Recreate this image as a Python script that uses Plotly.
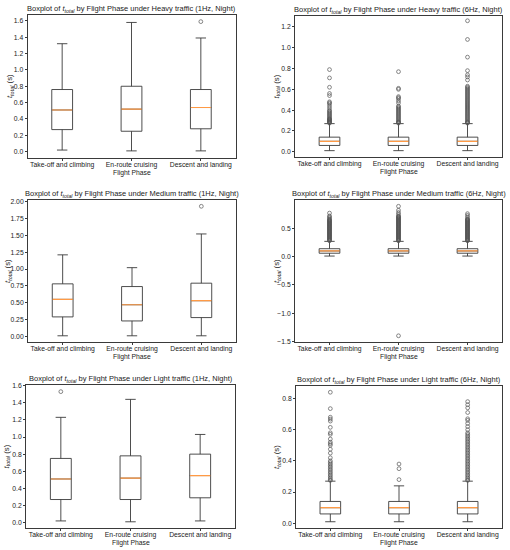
import plotly.graph_objects as go

# ---------------- data ----------------
phases = ["Take-off and climbing", "En-route cruising", "Descent and landing"]
positions = [1, 2, 3]

panel_titles = [
    "Heavy traffic (1Hz, Night)", "Heavy traffic (6Hz, Night)",
    "Medium traffic (1Hz, Night)", "Medium traffic (6Hz, Night)",
    "Light traffic (1Hz, Night)", "Light traffic (6Hz, Night)",
]

# Heavy 1Hz
heavy_1hz_low = [0.02, 0.01, 0.01]
heavy_1hz_q1 = [0.27, 0.25, 0.28]
heavy_1hz_med = [0.51, 0.52, 0.54]
heavy_1hz_q3 = [0.76, 0.80, 0.76]
heavy_1hz_high = [1.32, 1.58, 1.39]
heavy_1hz_out = [[], [], [1.59]]

# Heavy 6Hz
heavy_6hz_low = [0.01, 0.01, 0.01]
heavy_6hz_q1 = [0.06, 0.06, 0.06]
heavy_6hz_med = [0.10, 0.10, 0.10]
heavy_6hz_q3 = [0.14, 0.14, 0.14]
heavy_6hz_high = [0.27, 0.27, 0.27]
heavy_6hz_out = [
    [0.275, 0.28, 0.285, 0.29, 0.295, 0.30, 0.305, 0.31, 0.315, 0.32, 0.33, 0.34,
     0.35, 0.36, 0.37, 0.38, 0.39, 0.40, 0.42, 0.44, 0.46, 0.47, 0.48, 0.54,
     0.56, 0.62, 0.71, 0.79],
    [0.275, 0.28, 0.285, 0.29, 0.30, 0.31, 0.32, 0.33, 0.34, 0.35, 0.36, 0.37,
     0.38, 0.39, 0.40, 0.41, 0.42, 0.43, 0.44, 0.47, 0.49, 0.51, 0.52, 0.53,
     0.60, 0.61, 0.77],
    [0.275, 0.28, 0.285, 0.29, 0.30, 0.31, 0.32, 0.33, 0.34, 0.35, 0.36, 0.37,
     0.38, 0.39, 0.40, 0.41, 0.42, 0.43, 0.44, 0.45, 0.46, 0.47, 0.48, 0.49,
     0.50, 0.51, 0.52, 0.53, 0.54, 0.55, 0.56, 0.57, 0.58, 0.59, 0.60, 0.61,
     0.62, 0.63, 0.69, 0.72, 0.74, 0.78, 0.91, 1.08, 1.26],
]

# Medium 1Hz
medium_1hz_low = [0.01, 0.01, 0.01]
medium_1hz_q1 = [0.29, 0.23, 0.28]
medium_1hz_med = [0.55, 0.47, 0.53]
medium_1hz_q3 = [0.78, 0.74, 0.79]
medium_1hz_high = [1.21, 1.02, 1.52]
medium_1hz_out = [[], [], [1.93]]

# Medium 6Hz
medium_6hz_low = [0.01, 0.01, 0.01]
medium_6hz_q1 = [0.06, 0.06, 0.06]
medium_6hz_med = [0.10, 0.10, 0.10]
medium_6hz_q3 = [0.14, 0.14, 0.14]
medium_6hz_high = [0.27, 0.27, 0.27]
medium_6hz_out = [
    [0.28, 0.29, 0.30, 0.31, 0.32, 0.33, 0.34, 0.35, 0.36, 0.37, 0.38, 0.39,
     0.40, 0.41, 0.42, 0.43, 0.44, 0.45, 0.46, 0.47, 0.48, 0.49, 0.50, 0.51,
     0.52, 0.53, 0.54, 0.55, 0.56, 0.57, 0.58, 0.59, 0.60, 0.61, 0.62, 0.63,
     0.64, 0.65, 0.66, 0.68, 0.70, 0.72, 0.77],
    [-1.40, 0.28, 0.29, 0.30, 0.31, 0.32, 0.33, 0.34, 0.35, 0.36, 0.37, 0.38,
     0.39, 0.40, 0.41, 0.42, 0.43, 0.44, 0.45, 0.46, 0.47, 0.48, 0.49, 0.50,
     0.51, 0.52, 0.53, 0.54, 0.55, 0.56, 0.57, 0.58, 0.59, 0.60, 0.61, 0.62,
     0.63, 0.64, 0.65, 0.66, 0.67, 0.68, 0.69, 0.70, 0.71, 0.72, 0.75, 0.78,
     0.82, 0.89],
    [0.28, 0.29, 0.30, 0.31, 0.32, 0.33, 0.34, 0.35, 0.36, 0.37, 0.38, 0.39,
     0.40, 0.41, 0.42, 0.43, 0.44, 0.45, 0.46, 0.47, 0.48, 0.49, 0.50, 0.51,
     0.52, 0.53, 0.54, 0.55, 0.56, 0.57, 0.58, 0.59, 0.60, 0.61, 0.62, 0.63,
     0.64, 0.65, 0.66, 0.67, 0.70, 0.73, 0.76],
]

# Light 1Hz
light_1hz_low = [0.02, 0.01, 0.02]
light_1hz_q1 = [0.27, 0.27, 0.29]
light_1hz_med = [0.51, 0.52, 0.55]
light_1hz_q3 = [0.75, 0.78, 0.80]
light_1hz_high = [1.23, 1.44, 1.03]
light_1hz_out = [[1.53], [], []]

# Light 6Hz
light_6hz_low = [0.01, 0.01, 0.01]
light_6hz_q1 = [0.06, 0.06, 0.06]
light_6hz_med = [0.10, 0.10, 0.10]
light_6hz_q3 = [0.14, 0.14, 0.14]
light_6hz_high = [0.27, 0.24, 0.27]
light_6hz_out = [
    [0.275, 0.28, 0.29, 0.30, 0.31, 0.32, 0.33, 0.34, 0.35, 0.36, 0.37, 0.38,
     0.39, 0.40, 0.42, 0.45, 0.475, 0.50, 0.51, 0.52, 0.54, 0.57, 0.58, 0.615,
     0.655, 0.668, 0.68, 0.735, 0.84],
    [0.28, 0.35, 0.38],
    [0.275, 0.28, 0.29, 0.30, 0.31, 0.32, 0.33, 0.34, 0.35, 0.36, 0.37, 0.38,
     0.39, 0.40, 0.41, 0.42, 0.43, 0.44, 0.45, 0.46, 0.47, 0.48, 0.49, 0.50,
     0.51, 0.52, 0.53, 0.54, 0.55, 0.56, 0.57, 0.58, 0.60, 0.62, 0.64, 0.66,
     0.67, 0.71, 0.74, 0.76, 0.78],
]

panels = [
    (heavy_1hz_low, heavy_1hz_q1, heavy_1hz_med, heavy_1hz_q3, heavy_1hz_high, heavy_1hz_out),
    (heavy_6hz_low, heavy_6hz_q1, heavy_6hz_med, heavy_6hz_q3, heavy_6hz_high, heavy_6hz_out),
    (medium_1hz_low, medium_1hz_q1, medium_1hz_med, medium_1hz_q3, medium_1hz_high, medium_1hz_out),
    (medium_6hz_low, medium_6hz_q1, medium_6hz_med, medium_6hz_q3, medium_6hz_high, medium_6hz_out),
    (light_1hz_low, light_1hz_q1, light_1hz_med, light_1hz_q3, light_1hz_high, light_1hz_out),
    (light_6hz_low, light_6hz_q1, light_6hz_med, light_6hz_q3, light_6hz_high, light_6hz_out),
]

# ---------------- layout settings ----------------
W, H = 510, 550
# plot-area boxes in pixels: (left, right, top, bottom)
boxes_px = [
    (27.5, 235.5, 12.3, 156.7),
    (295, 502, 12.7, 156),
    (28, 236, 199, 343),
    (295, 502, 199, 343),
    (26, 235, 386, 531),
    (296, 502, 387, 531),
]
ylabel_shift = [-18, -18, -20, -18, -19, -19]
yranges = [
    [-0.077, 1.669],
    [-0.054, 1.31],
    [-0.086, 2.026],
    [-1.5145, 1.0045],
    [-0.065, 1.61],
    [-0.0315, 0.8815],
]
ytick_sets = [
    ([0.0, 0.2, 0.4, 0.6, 0.8, 1.0, 1.2, 1.4, 1.6], ".1f"),
    ([0.0, 0.2, 0.4, 0.6, 0.8, 1.0, 1.2], ".1f"),
    ([0.0, 0.25, 0.5, 0.75, 1.0, 1.25, 1.5, 1.75, 2.0], ".2f"),
    ([-1.5, -1.0, -0.5, 0.0, 0.5], ".1f"),
    ([0.0, 0.2, 0.4, 0.6, 0.8, 1.0, 1.2, 1.4, 1.6], ".1f"),
    ([0.0, 0.2, 0.4, 0.6, 0.8], ".1f"),
]

FONT = "Liberation Sans, Arial, sans-serif"
EDGE = "#3a3a3a"
BOX_W = 0.3
TICK_SIZE = 6.8

fig = go.Figure()
annotations = []
layout_axes = {}

for i, (low, q1, med, q3, high, outs) in enumerate(panels):
    n = i + 1
    xa = "x" if n == 1 else f"x{n}"
    ya = "y" if n == 1 else f"y{n}"
    xkey = "xaxis" if n == 1 else f"xaxis{n}"
    ykey = "yaxis" if n == 1 else f"yaxis{n}"

    fig.add_trace(go.Box(
        x=positions, q1=q1, median=med, q3=q3, lowerfence=low, upperfence=high,
        width=BOX_W, whiskerwidth=0.5, boxpoints=False,
        line=dict(color=EDGE, width=0.9), fillcolor="rgba(255,255,255,0)",
        xaxis=xa, yaxis=ya, showlegend=False, hoverinfo="skip",
    ))
    # median lines (orange, drawn over the box's own median)
    mx, my = [], []
    for p, m in zip(positions, med):
        mx += [p - BOX_W / 2 + 0.004, p + BOX_W / 2 - 0.004, None]
        my += [m, m, None]
    fig.add_trace(go.Scatter(
        x=mx, y=my, mode="lines", line=dict(color="#ff9a45", width=1.2),
        xaxis=xa, yaxis=ya, showlegend=False, hoverinfo="skip",
    ))
    # outliers
    ox, oy = [], []
    for p, vals in zip(positions, outs):
        ox += [p] * len(vals)
        oy += vals
    if ox:
        fig.add_trace(go.Scatter(
            x=ox, y=oy, mode="markers",
            marker=dict(symbol="circle-open", size=3.8, color="#555555",
                        line=dict(width=0.7, color="#555555")),
            xaxis=xa, yaxis=ya, showlegend=False, hoverinfo="skip",
        ))

    l, r, t, b = boxes_px[i]
    xd = [l / W, r / W]
    yd = [1 - b / H, 1 - t / H]
    tickvals, fmt = ytick_sets[i]
    layout_axes[xkey] = dict(
        domain=xd, anchor=ya, range=[0.5, 3.5], tickmode="array",
        tickvals=positions, ticktext=phases, showgrid=False, zeroline=False,
        showline=True, mirror=True, linecolor=EDGE, linewidth=0.9,
        ticks="outside", ticklen=2, tickwidth=0.7, tickcolor=EDGE,
        ticklabelstandoff=-2,
        tickfont=dict(family=FONT, size=TICK_SIZE, color="#222"),
    )
    layout_axes[ykey] = dict(
        domain=yd, anchor=xa, range=yranges[i], tickmode="array",
        tickvals=tickvals, tickformat=fmt, showgrid=False, zeroline=False,
        showline=True, mirror=True, linecolor=EDGE, linewidth=0.9,
        ticks="outside", ticklen=2, tickwidth=0.7, tickcolor=EDGE,
        tickfont=dict(family=FONT, size=TICK_SIZE, color="#222"),
    )

    cx = (xd[0] + xd[1]) / 2
    annotations.append(dict(
        x=cx, y=yd[1], xref="paper", yref="paper", xanchor="center", yanchor="bottom",
        yshift=-1, showarrow=False,
        text=f"Boxplot of <i>t</i><sub><i>total</i></sub> by Flight Phase under {panel_titles[i]}",
        font=dict(family=FONT, size=7.5, color="#222"),
    ))
    annotations.append(dict(
        x=cx, y=yd[0], xref="paper", yref="paper", xanchor="center", yanchor="top",
        yshift=-9, showarrow=False, text="Flight Phase",
        font=dict(family=FONT, size=TICK_SIZE, color="#222"),
    ))
    annotations.append(dict(
        x=xd[0], y=(yd[0] + yd[1]) / 2, xref="paper", yref="paper",
        xanchor="center", yanchor="middle", xshift=ylabel_shift[i],
        showarrow=False, textangle=-90,
        text="<i>t</i><sub><i>total</i></sub> (s)",
        font=dict(family=FONT, size=7.8, color="#222"),
    ))

fig.update_layout(
    width=W, height=H, margin=dict(l=0, r=0, t=0, b=0),
    paper_bgcolor="white", plot_bgcolor="white",
    annotations=annotations, boxmode="overlay", **layout_axes,
)
fig.write_html("out.html", config={"displayModeBar": False},
               post_script="document.body.style.margin='0px';document.body.style.padding='0px';")
